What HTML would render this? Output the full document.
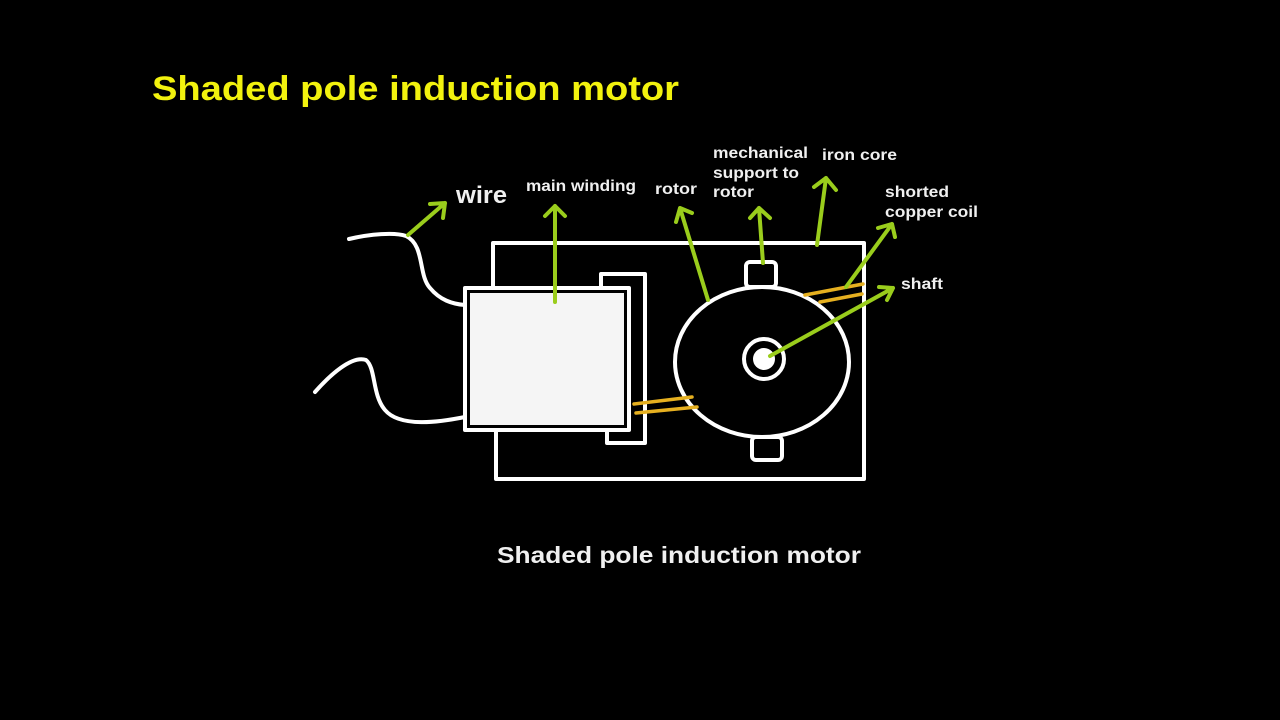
<!DOCTYPE html>
<html><head><meta charset="utf-8"><style>
html,body{margin:0;padding:0;background:#000;}
svg{display:block;}
text{font-family:"Liberation Sans",Arial,sans-serif;font-weight:bold;}
</style></head><body>
<svg width="1280" height="720" viewBox="0 0 1280 720" xmlns="http://www.w3.org/2000/svg">
<rect width="1280" height="720" fill="#000"/>
<text x="152" y="100" font-size="34" fill="#f2f20e" textLength="527" lengthAdjust="spacingAndGlyphs">Shaded pole induction motor</text>
<text x="497" y="563" font-size="23" fill="#f0f0f0" textLength="364" lengthAdjust="spacingAndGlyphs">Shaded pole induction motor</text>

<g fill="none" stroke="#fff" stroke-width="4" stroke-linecap="round" stroke-linejoin="round">
  <path d="M493 288 L493 243 L864 243 L864 479 L496 479 L496 432"/>
  <path d="M349 239 C370 234 395 232 406 236 C425 245 418 275 430 288 C440 300 452 304 465 305"/>
  <path d="M315 392 C330 375 352 355 366 360 C376 368 372 395 385 410 C400 428 440 422 465 417"/>
  <path d="M601 288 L601 274 L645 274 L645 443 L607 443 L607 431"/>
  <rect x="465" y="288" width="164" height="142"/>
  <ellipse cx="762" cy="362" rx="87" ry="75"/>
  <rect x="746" y="262" width="30" height="25" rx="4"/>
  <rect x="752" y="437" width="30" height="23" rx="4"/>
  <circle cx="764" cy="359" r="20"/>
</g>
<rect x="470" y="293" width="154" height="132" fill="#f5f5f5"/>
<circle cx="764" cy="359" r="11" fill="#fff"/>

<g stroke="#e6b020" stroke-width="3.5" stroke-linecap="round">
  <line x1="634" y1="404" x2="692" y2="397"/>
  <line x1="636" y1="413" x2="697" y2="407"/>
  <line x1="805" y1="295" x2="863" y2="284"/>
  <line x1="820" y1="302" x2="862" y2="294"/>
</g>

<g fill="none" stroke="#9acd1c" stroke-width="4" stroke-linecap="round" stroke-linejoin="round">
  <path d="M408 235 L445 203 M430 204 L445 203 L443 218"/>
  <path d="M555 302 L555 206 M545 216 L555 206 L565 216"/>
  <path d="M708 300 L680 208 M676 222 L680 208 L692 213"/>
  <path d="M763 263 L759 208 M750 218 L759 208 L770 218"/>
  <path d="M817 245 L826 178 M814 187 L826 178 L836 190"/>
  <path d="M846 287 L892 224 M878 228 L892 224 L895 237"/>
  <path d="M770 356 L893 288 M879 287 L893 288 L887 300"/>
</g>

<g fill="#f0f0f0">
  <text x="456" y="203" font-size="24" textLength="51" lengthAdjust="spacingAndGlyphs">wire</text>
  <text x="526" y="191" font-size="16" textLength="110" lengthAdjust="spacingAndGlyphs">main winding</text>
  <text x="655" y="194" font-size="16" textLength="42" lengthAdjust="spacingAndGlyphs">rotor</text>
  <text x="713" y="158" font-size="16" textLength="95" lengthAdjust="spacingAndGlyphs">mechanical</text>
  <text x="713" y="178" font-size="16" textLength="86" lengthAdjust="spacingAndGlyphs">support to</text>
  <text x="713" y="197" font-size="16" textLength="41" lengthAdjust="spacingAndGlyphs">rotor</text>
  <text x="822" y="160" font-size="16" textLength="75" lengthAdjust="spacingAndGlyphs">iron core</text>
  <text x="885" y="197" font-size="16" textLength="64" lengthAdjust="spacingAndGlyphs">shorted</text>
  <text x="885" y="217" font-size="16" textLength="93" lengthAdjust="spacingAndGlyphs">copper coil</text>
  <text x="901" y="289" font-size="16" textLength="42" lengthAdjust="spacingAndGlyphs">shaft</text>
</g>
</svg>
</body></html>
